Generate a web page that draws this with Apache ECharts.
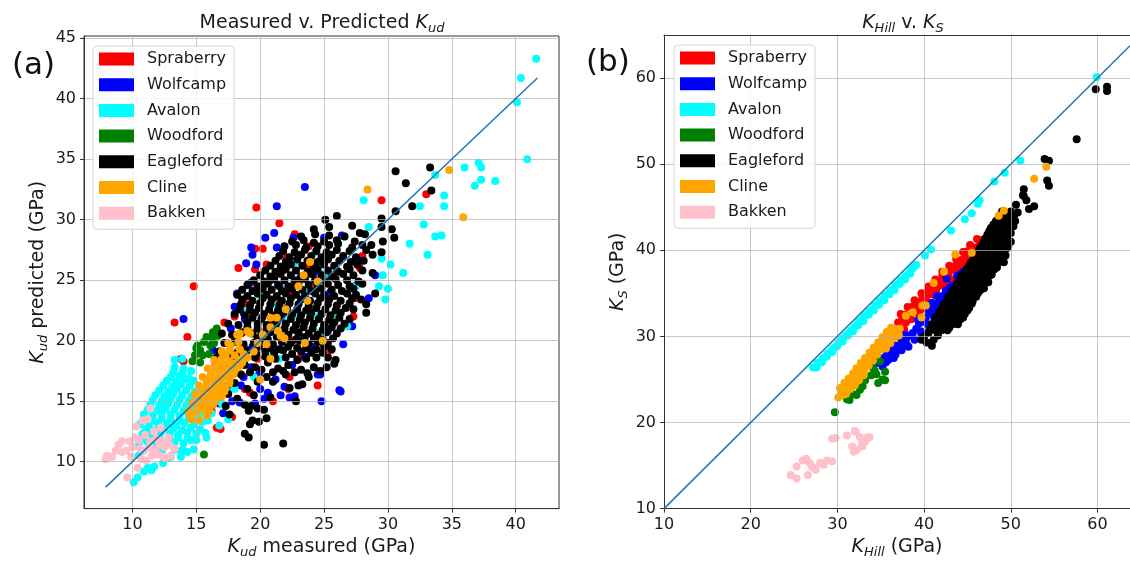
<!DOCTYPE html>
<html>
<head>
<meta charset="utf-8">
<script src="https://cdn.jsdelivr.net/npm/echarts@6/dist/echarts.min.js"></script>
<style>
  html, body { margin: 0; padding: 0; background: #fff; }
  #chart { width: 1130px; height: 564px; }
</style>
</head>
<body>
<div id="chart"></div>
<script>
// formation names (legend order = draw order)
const formations = ['Spraberry', 'Wolfcamp', 'Avalon', 'Woodford', 'Eagleford', 'Cline', 'Bakken']
const formationColors = ['#ff0000', '#0000ff', '#00ffff', '#008000', '#000000', '#ffa500', '#ffc0cb']

// axis ranges and ticks
const xRangeA = [6.21, 43.39]
const yRangeA = [6.125, 45.175]
const xTicksA = [10, 15, 20, 25, 30, 35, 40]
const yTicksA = [10, 15, 20, 25, 30, 35, 40, 45]
const xRangeB = [10, 63.75]   // panel (b) is cut off at the right edge of the figure
const yRangeB = [10, 65]
const ticksB = [10, 20, 30, 40, 50, 60]

// 1:1 reference lines
const lineA = [7.9, 41.7]
const lineB = [10, 65]

// ---------- panel (a): K_ud measured vs predicted ----------
const spraberryA = [[29.5,31.6],[33.0,32.1],[19.7,31.0],[21.5,29.7],[28.0,27.0],[27.8,26.0],[19.6,27.6],[19.6,25.9],[14.8,24.5],[24.5,16.3],[13.3,21.5],[14.3,20.3],[14.0,18.3],[13.8,18.5],[16.6,12.8],[16.9,12.7],[27.3,22.0],[27.4,23.5],[26.8,21.2],[18.0,22.0],[18.5,20.6],[19.3,24.8],[20.5,26.3],[21.8,25.8],[17.0,19.0],[16.5,18.0],[17.5,17.0],[18.8,16.0],[19.2,15.7],[21.0,15.0],[22.2,16.0],[23.0,18.5],[24.0,22.5],[25.2,23.5],[26.0,25.8],[23.8,27.8],[22.3,24.0],[20.8,21.0],[19.8,18.5],[15.5,16.0],[16.2,14.2],[17.8,13.7],[18.3,26.0],[18.9,23.0],[22.7,28.8],[20.2,27.6],[22.1,26.9],[23.7,26.1],[22.5,20.0],[22.3,17.0],[25.5,19.2],[24.4,24.6],[17.2,21.5],[21.2,23.3]]
const wolfcampA = [[23.5,32.7],[21.3,31.1],[20.4,28.5],[21.1,28.9],[18.9,26.4],[19.7,26.3],[22.6,28.5],[25.0,28.5],[26.4,28.7],[14.0,21.8],[26.2,15.9],[24.8,15.0],[24.7,17.2],[21.6,15.5],[22.3,15.3],[22.7,15.4],[23.5,18.7],[19.3,27.7],[19.4,27.1],[21.3,27.7],[19.1,24.7],[18.2,23.9],[18.0,22.8],[18.7,22.3],[17.7,21.0],[29.0,25.4],[27.8,26.6],[24.5,17.2],[26.3,15.8],[17.9,20.5],[16.3,19.2],[20.2,22.0],[21.5,24.5],[22.8,25.0],[24.2,25.6],[25.5,24.0],[27.2,21.2],[23.0,20.5],[21.0,19.5],[19.3,17.8],[20.0,16.0],[20.6,15.7],[21.2,16.8],[18.5,16.3],[17.8,15.0],[16.8,14.8],[17.1,14.0],[18.4,14.9],[19.9,17.2],[22.5,18.0],[24.0,19.5],[25.3,20.8],[26.5,19.7],[27.4,24.5],[28.5,23.5],[22.5,26.5],[20.8,25.0],[18.8,21.8],[19.4,19.5],[18.7,17.0],[20.3,15.2],[19.6,14.8],[21.9,16.2],[17.4,16.2]]
const avalonA = [[10.1,8.3],[10.4,8.7],[10.9,9.2],[11.5,9.3],[11.7,9.6],[11.2,9.5],[12.4,9.9],
  [10.5,10.5],[12.8,10.3],[13.0,10.4],[13.8,10.4],[14.3,10.8],[14.8,11.0],[11.6,10.8],[12.3,10.9],[13.3,11.0],[14.0,10.9],
  [10.5,11.4],[11.2,11.6],[11.9,11.5],[12.6,11.4],[13.3,11.6],[14.0,11.5],[14.6,11.8],
  [10.8,11.9],[11.5,12.0],[12.2,11.8],[12.9,11.9],[13.6,12.0],[14.3,11.9],[15.0,11.8],
  [10.8,12.3],[11.5,12.2],[12.2,12.4],[12.9,12.3],[13.6,12.2],[14.3,12.4],[15.0,12.3],[15.7,12.4],
  [11.1,12.7],[11.8,12.6],[12.5,12.8],[13.2,12.7],[13.9,12.6],[14.6,12.8],[15.3,12.7],
  [10.6,13.1],[11.3,13.0],[12.0,13.2],[12.7,13.1],[13.4,13.0],[14.1,13.2],[14.8,13.1],[15.5,13.3],
  [10.9,13.5],[11.6,13.4],[12.3,13.6],[13.0,13.5],[13.7,13.4],[14.4,13.6],[15.1,13.5],
  [10.9,13.9],[11.6,13.8],[12.3,14.0],[13.0,13.9],[13.7,13.8],[14.4,14.0],[15.2,13.9],
  [11.2,14.3],[11.9,14.2],[12.6,14.4],[13.3,14.3],[14.0,14.2],[14.7,14.4],
  [11.4,14.7],[12.1,14.6],[12.8,14.8],[13.5,14.7],[14.2,14.6],[14.9,14.8],
  [11.6,15.1],[12.3,15.0],[13.0,15.2],[13.7,15.1],[14.4,15.0],[15.0,15.2],
  [11.8,15.5],[12.5,15.4],[13.2,15.6],[13.9,15.5],[14.6,15.4],
  [12.1,15.9],[12.8,15.8],[13.5,16.0],[14.2,15.9],[14.9,15.8],
  [12.4,16.3],[13.1,16.2],[13.8,16.4],[14.5,16.3],
  [12.7,16.7],[13.4,16.6],[14.1,16.8],[14.8,16.7],
  [13.0,17.0],[13.7,17.1],[14.4,16.9],[13.2,17.4],[13.9,17.3],[14.6,17.5],[13.3,17.8],[14.0,17.7],[13.3,18.4],[13.9,18.5],
  [16.2,14.0],[17.0,14.8],[17.5,13.5],[18.0,16.0],[19.5,17.0],[20.5,19.0],[22.0,21.5],[21.0,23.0],[23.5,24.0],[24.5,22.0],[26.8,21.2],[27.5,24.5],[29.3,24.5],[30.0,24.3],[29.8,23.4],[25.9,21.8],[24.3,27.3],[22.8,26.5],[19.0,22.5],[18.3,19.2],[16.8,13.0],[15.9,13.4],[17.3,17.8],[20.0,20.5],[21.5,18.5],[23.0,22.0],[25.0,25.5],[16.5,15.5],[15.8,12.0],[15.6,14.5],[13.8,10.9],[18.8,18.8],[19.9,23.8],[24.7,20.7],
  [41.6,43.3],[40.4,41.7],[40.1,39.7],[40.9,35.0],[36.0,34.3],[37.1,34.7],[37.3,34.3],[37.3,33.3],[38.4,33.2],[36.8,32.8],[33.7,33.7],[34.4,32.0],[34.4,31.1],[32.5,31.1],[32.8,29.6],[28.1,31.6],[28.5,29.4],[29.5,26.8],[30.2,26.3],[31.2,25.6],[31.7,28.0],[33.7,28.6],[34.2,28.7],[33.1,27.1],[29.6,25.4],[26.6,28.6]]
const woodfordA = [[15.6,10.6],[15.1,19.6],[16.3,20.7],[16.6,21.0],[16.1,19.6],[15.5,18.8],[15.3,18.2],[15.0,19.4],[16.6,20.8],[16.2,20.2],[15.3,19.2],[14.9,18.8],[16.4,19.8],[16.7,20.4],[15.8,20.3],[15.6,19.9],[16.0,18.9],[14.7,18.3]]
const eaglefordA = [[20.3,11.4],[21.8,11.5],[19.1,12.0],[18.8,12.3],[19.2,13.1],[19.4,13.4],[19.9,13.3],[20.5,13.6],[20.3,14.3],[19.8,14.4],[19.1,14.2],[18.8,14.7],[19.3,14.6],[17.6,13.9],[17.3,14.6],
  [22.8,15.0],[18.2,15.2],[19.5,15.5],[20.8,15.3],[17.5,15.6],[17.2,16.2],[18.0,16.5],[19.0,16.0],[19.8,16.6],[21.0,16.6],[22.3,16.1],[23.0,16.3],[23.3,16.4],
  [20.5,17.0],[18.5,17.2],[22.0,17.2],[23.8,17.0],[17.0,17.8],[17.8,18.3],[18.8,18.0],[19.6,17.8],[20.6,18.2],[21.4,17.7],[22.2,18.0],[23.2,17.6],[24.2,17.8],[25.2,17.8],[25.8,18.1],[25.9,18.4],[24.9,19.0],[16.6,18.6],
  [19.2,17.4],[20.1,17.6],[21.0,17.4],[21.8,17.5],[22.7,17.4],[23.7,17.3],[24.7,17.5],
  [19.6,18.6],[20.4,18.7],[21.2,18.5],[22.0,18.6],[22.9,18.4],[23.6,18.5],[24.4,18.6],[25.3,18.6],
  [16.8,19.1],[17.5,18.9],[18.2,19.0],[19.0,19.2],[19.7,18.9],[20.4,19.1],[21.1,19.0],[21.8,19.2],[22.5,18.9],[23.2,19.1],[24.0,19.0],[25.6,19.3],
  [19.9,19.5],[20.7,19.4],[21.5,19.3],[22.2,19.5],[22.9,19.4],[23.6,19.4],[24.4,19.3],[25.0,19.5],
  [17.2,19.8],[18.0,19.9],[18.7,19.7],[19.5,19.8],[20.2,20.0],[21.0,19.7],[21.7,19.9],[22.4,19.8],[23.1,20.0],[23.8,19.7],[24.5,19.9],[25.3,19.8],
  [19.8,20.2],[20.6,20.1],[21.3,20.3],[22.0,20.2],[22.8,20.1],[23.5,20.3],[24.2,20.2],[24.9,20.1],[25.7,20.2],
  [17.0,20.6],[17.8,20.5],[18.6,20.7],[19.4,20.6],[20.1,20.5],[20.8,20.7],[21.5,20.6],[22.2,20.5],[23.0,20.7],[23.8,20.6],[24.5,20.5],[25.2,20.7],[26.0,20.6],
  [19.0,21.1],[19.8,21.0],[20.5,20.9],[21.2,21.1],[21.9,21.0],[22.6,20.9],[23.4,21.1],[24.1,21.0],[24.9,20.9],[25.6,21.1],[26.3,21.0],
  [17.5,21.4],[18.3,21.3],[19.0,21.5],[19.8,21.4],[20.5,21.3],[21.3,21.5],[22.0,21.4],[22.8,21.3],[23.5,21.5],[24.2,21.4],[25.0,21.3],[25.8,21.5],[26.6,21.4],
  [19.4,21.9],[20.1,21.8],[20.9,21.7],[21.6,21.9],[22.4,21.8],[23.1,21.7],[23.9,21.9],[24.6,21.8],[25.4,21.7],[26.2,21.9],[27.0,21.8],
  [18.0,22.2],[18.8,22.1],[19.6,22.3],[20.3,22.2],[21.0,22.1],[21.8,22.3],[22.5,22.2],[23.2,22.1],[24.0,22.3],[24.8,22.2],[25.5,22.1],[26.3,22.3],[27.3,22.6],[28.3,22.3],
  [18.4,22.6],[19.2,22.5],[19.9,22.7],[20.7,22.6],[21.4,22.5],[22.1,22.7],[22.9,22.6],[23.6,22.5],[24.4,22.7],[25.1,22.6],[25.9,22.5],[26.7,22.7],
  [18.5,23.0],[19.2,22.9],[20.0,23.1],[20.8,23.0],[21.5,22.9],[22.3,23.1],[23.0,23.0],[23.8,22.9],[24.5,23.1],[25.3,23.0],[26.0,22.9],[27.0,23.1],[28.3,23.0],
  [18.6,23.4],[19.4,23.3],[20.2,23.5],[20.9,23.4],[21.7,23.3],[22.4,23.5],[23.2,23.4],[23.9,23.3],[24.7,23.5],[25.4,23.4],[26.3,23.3],[27.2,23.5],[27.9,23.4],
  [18.2,23.8],[19.0,23.7],[19.8,23.9],[20.5,23.8],[21.3,23.7],[22.0,23.9],[22.8,23.8],[23.5,23.7],[24.3,23.9],[25.0,23.8],[25.8,23.7],[26.8,23.9],[27.5,23.8],[29.0,23.9],
  [18.6,24.2],[19.4,24.1],[20.2,24.3],[20.9,24.2],[21.7,24.1],[22.5,24.3],[23.3,24.2],[24.0,24.1],[24.8,24.3],[25.6,24.2],[26.4,24.1],[27.3,24.3],
  [19.0,24.6],[19.8,24.5],[20.6,24.7],[21.4,24.6],[22.2,24.5],[23.0,24.7],[23.8,24.6],[24.5,24.5],[25.3,24.7],[26.1,24.6],[27.0,24.5],[28.0,24.7],
  [19.5,25.0],[20.3,24.9],[21.1,25.1],[21.9,25.0],[22.7,24.9],[23.5,25.1],[24.3,25.0],[25.1,24.9],[25.9,25.1],[26.8,25.0],[27.7,24.9],
  [20.0,25.4],[20.8,25.3],[21.6,25.5],[22.4,25.4],[23.2,25.3],[24.0,25.5],[24.8,25.4],[25.6,25.3],[26.5,25.5],[27.3,25.4],[28.8,25.6],
  [20.4,25.8],[21.2,25.7],[22.0,25.9],[22.8,25.8],[23.7,25.7],[24.5,25.9],[25.3,25.8],[26.1,25.7],[27.0,25.9],[28.0,25.8],
  [20.8,26.2],[21.6,26.1],[22.4,26.3],[23.3,26.2],[24.2,26.1],[25.0,26.3],[25.8,26.2],[26.8,26.1],[27.6,26.3],
  [21.2,26.6],[22.0,26.5],[22.9,26.7],[23.7,26.6],[24.5,26.5],[25.3,26.7],[26.2,26.6],[27.1,26.5],[28.1,26.6],
  [21.5,27.0],[22.3,26.9],[23.2,27.1],[24.0,27.0],[24.8,26.9],[25.6,27.1],[26.5,27.0],[27.5,26.9],[28.8,27.1],[29.5,27.3],
  [21.8,27.4],[22.7,27.3],[23.5,27.5],[24.4,27.4],[25.2,27.3],[26.0,27.5],[27.0,27.4],[28.3,27.5],
  [21.9,27.8],[22.8,27.9],[23.6,27.7],[24.5,27.8],[25.4,27.9],[26.1,28.0],[27.2,27.7],[28.0,27.9],[28.7,27.9],[29.6,28.2],
  [22.5,28.2],[23.4,28.3],[24.2,28.1],[25.0,28.2],[26.0,28.3],[27.4,28.2],
  [23.2,28.6],[24.3,28.8],[25.4,28.7],[26.6,28.6],[28.2,28.8],[30.5,28.5],
  [24.2,29.2],[25.4,29.4],[27.2,29.5],[29.5,29.4],[30.3,29.2],
  [33.3,34.3],[30.6,34.0],[31.4,33.0],[31.9,31.1],[33.4,32.4],[26.0,30.3],[30.6,30.7],[29.5,30.1],[27.8,28.9],[25.1,30.0]]
const clineA = [[14.6,13.5],[15.2,13.4],[14.5,13.9],[15.8,13.8],[14.4,14.2],[15.0,14.1],[15.6,14.3],[16.0,14.2],[15.1,14.6],[15.7,14.6],[16.3,14.7],[14.7,14.9],[15.3,15.0],[15.9,14.8],[16.5,15.0],[15.2,15.3],[15.8,15.2],[16.4,15.3],[17.0,15.4],[14.9,15.6],[15.5,15.7],[16.1,15.5],[16.7,15.6],[17.2,15.8],[15.5,16.0],[16.1,15.9],[16.7,16.0],[17.3,16.1],[15.2,16.3],[15.8,16.4],[16.4,16.2],[17.0,16.3],[17.6,16.5],[15.8,16.7],[16.4,16.6],[17.0,16.7],[17.6,16.8],[15.5,17.0],[16.1,17.1],[16.7,16.9],[17.3,17.0],[17.9,17.2],[16.2,17.4],[16.8,17.3],[17.4,17.4],[18.0,17.5],[15.9,17.7],[16.5,17.8],[17.1,17.6],[17.8,17.7],[18.4,17.9],[16.7,18.1],[17.3,18.0],[17.9,18.1],[18.6,18.2],[16.4,18.4],[17.0,18.5],[17.6,18.3],[18.3,18.4],[19.0,18.6],[17.3,18.8],[18.0,18.8],[18.7,18.9],[17.0,19.1],[17.6,19.2],[18.4,19.3],[19.5,19.1],[17.5,19.8],[18.3,19.9],[19.8,19.8],[20.5,19.7],[18.2,20.5],[19.2,20.6],[20.2,20.5],[21.6,20.4],
  [20.8,21.9],[21.3,21.9],[20.8,21.1],[21.9,20.2],[23.5,19.8],[24.9,20.0],[23.9,26.5],[23.4,25.4],[24.5,24.9],[23.0,24.5],[23.7,23.3],[19.0,20.8],[20.8,18.5],[21.4,20.8],[18.4,20.6],[17.7,19.6],[22.0,22.6],[20.0,16.8],
  [34.8,34.1],[28.4,32.5],[35.9,30.2]]
const bakkenA = [[7.9,10.2],[8.4,10.4],[8.9,11.4],[9.5,10.9],[9.8,11.7],[10.4,9.5],[9.6,8.7],[10.3,12.9],[10.9,10.9],[11.4,11.7],[11.7,12.5],[11.4,14.4],[12.0,10.6],[12.5,11.2],[13.0,10.5],[11.1,10.1],[12.3,11.7],[10.7,10.2],[8.0,10.5],[9.2,10.8],[10.0,11.2],[10.5,11.8],[11.0,12.2],[11.8,11.0],[12.2,12.8],[12.8,12.0],[11.5,10.5],[10.8,13.4],[9.2,11.7],[12.6,10.3],[10.2,12.0],[11.2,13.5],[11.6,10.9],[12.4,10.4],[11.9,11.9],[12.9,11.4],[10.6,11.1],[11.3,11.2],[12.1,11.4],[13.3,11.1],[9.9,10.4],[8.7,10.9]]

// ---------- panel (b): K_Hill vs K_S ----------
const spraberryB = [[36.4,30.0],[36.8,30.4],[37.2,31.0],[37.0,31.6],[37.5,32.1],[37.9,31.6],[37.7,30.8],[38.3,32.4],[38.5,32.0],[37.8,32.5],[38.7,33.0],[38.6,33.4],[39.0,32.8],[39.1,33.6],[39.4,32.8],[39.5,33.9],[39.9,33.2],[39.8,34.5],[40.0,33.8],[40.2,34.3],[40.4,35.2],[40.6,34.9],[41.0,35.5],[41.2,34.8],[41.2,35.9],[41.4,35.4],[41.6,36.4],[41.8,35.9],[42.0,36.0],[42.1,37.0],[42.4,36.5],[42.6,36.0],[42.8,37.3],[42.9,36.8],[43.2,37.7],[43.3,36.4],[43.6,38.2],[43.9,38.0],[44.0,38.5],[44.0,37.6],[44.4,38.9],[44.6,38.4],[44.8,39.2],[45.0,39.9],[45.2,39.8],[45.5,40.4],[45.9,39.7],[46.0,40.3],[46.4,40.8],[46.6,41.2],[46.8,40.6],[47.2,41.0],
  [37.3,32.6],[38.1,33.4],[38.9,34.2],[39.7,35.0],[40.5,35.8],[41.3,36.6],[42.1,37.5],[42.9,38.2],[43.7,39.0],[44.5,39.8],[45.3,40.6],[46.1,41.3]]
const wolfcampB = [[34.5,26.9],[34.9,27.4],[35.2,26.5],[35.3,27.5],[35.6,27.0],[35.7,28.1],[35.9,27.3],[36.0,27.8],[36.1,28.6],[36.4,28.2],[36.5,27.5],[36.7,27.9],[36.8,28.9],[37.1,28.7],[37.2,29.8],[37.4,28.4],[37.5,29.3],[37.8,30.2],[37.9,29.6],[38.0,29.0],[38.2,28.8],[38.3,30.1],[38.7,30.4],[38.9,29.6],[39.1,30.9],[39.3,31.9],[39.4,31.5],[39.6,30.6],[39.7,30.2],[39.8,31.7],[40.2,32.2],[40.4,31.4],[40.6,32.8],[40.6,33.6],[40.9,33.9],[41.0,33.1],[41.1,32.4],[41.2,32.0],[41.4,33.8],[41.5,34.7],[41.8,34.2],[41.9,33.0],[42.1,34.7],[42.5,35.3],[42.6,36.7],[42.7,33.6],[42.9,35.6],[43.3,35.9],[43.5,34.6],[43.8,37.0],[44.1,36.0],[44.2,37.2],[44.5,37.5],[44.6,36.5],[44.9,37.8],[45.2,36.9]]
const avalonB = [[27.2,26.4],[27.5,26.5],[27.7,26.9],[28.0,27.0],[28.3,27.4],[28.6,27.6],[28.9,28.0],[29.2,28.2],[29.5,28.6],[29.8,28.8],[30.1,29.2],[30.4,29.5],[30.7,29.8],[31.0,30.1],[31.3,30.4],[31.6,30.7],[31.9,31.0],[32.2,31.3],[32.5,31.7],[32.8,31.9],[33.1,32.3],[33.4,32.5],[33.7,32.9],[34.0,33.1],[34.3,33.5],[34.6,33.7],[34.9,34.1],[35.2,34.3],[35.5,34.7],[35.8,34.9],[36.1,35.3],[36.4,35.5],[36.7,35.9],[37.0,36.1],[37.3,36.5],[37.6,36.7],[37.9,37.0],[38.2,37.3],[38.5,37.7],[38.8,38.0],[39.1,38.3],
  [27.6,26.4],[28.2,27.0],[28.8,27.7],[29.4,28.2],[30.0,28.9],[30.6,29.4],[31.2,30.1],[31.8,30.6],[32.4,31.3],[33.0,31.8],[33.6,32.5],[34.2,33.0],[34.8,33.7],[35.4,34.2],[36.0,34.9],[36.6,35.4],[37.2,36.1],[37.8,36.6],[38.4,37.3],
  [40.1,39.4],[40.8,40.1],[43.1,42.3],[44.7,43.6],[45.5,44.3],[46.2,45.4],[46.4,45.8],[48.1,48.0],[49.3,49.0],[51.1,50.4],[59.9,60.1]]
const woodfordB = [[29.7,21.2],[31.1,22.7],[31.4,22.6],[31.8,23.3],[32.2,23.2],[32.6,23.8],[32.9,24.2],[34.5,25.6],[34.7,24.6],[35.2,25.0],[34.1,26.4],[34.9,27.1],[35.5,25.9],[33.9,25.5],[34.3,26.0],[35.5,24.9],[31.3,22.9],[33.2,24.9]]
const eaglefordB = [[39.7,29.6],[40.3,29.3],[40.9,28.9],[41.1,29.6],[41.6,30.1],[40.0,30.0],[40.5,30.4],[40.6,30.7],[41.3,30.7],[42.0,30.7],[42.7,30.7],[41.0,31.0],[41.7,30.8],[42.4,31.2],[42.9,31.0],
  [40.9,31.4],[41.7,31.4],[42.5,31.4],[43.3,31.4],[43.9,31.4],[41.3,31.8],[42.0,31.9],[42.7,32.0],[43.4,31.9],[44.2,32.0],
  [41.3,32.2],[42.1,32.2],[42.9,32.2],[43.7,32.2],[44.5,32.2],[41.7,32.6],[42.4,32.7],[43.1,32.5],[43.9,32.7],[44.7,32.6],
  [41.8,33.0],[42.6,33.0],[43.4,33.0],[44.2,33.0],[45.0,33.0],[42.2,33.4],[42.9,33.5],[43.6,33.3],[44.4,33.5],[45.2,33.3],
  [42.3,33.8],[43.1,33.8],[43.9,33.8],[44.7,33.8],[45.5,33.8],[42.7,34.2],[43.4,34.3],[44.1,34.1],[44.9,34.3],[45.6,34.1],
  [42.8,34.6],[43.6,34.6],[44.4,34.6],[45.2,34.6],[46.0,34.6],[43.2,35.0],[43.9,35.1],[44.6,34.9],[45.4,35.1],[46.2,35.0],
  [43.3,35.4],[44.1,35.4],[44.9,35.4],[45.7,35.4],[46.5,35.4],[46.9,35.6],[43.7,35.8],[44.4,35.9],[45.1,35.7],[45.9,35.9],[46.6,36.0],
  [43.8,36.2],[44.6,36.2],[45.4,36.2],[46.2,36.2],[47.0,36.2],[47.4,36.3],[44.1,36.6],[44.8,36.7],[45.6,36.5],[46.4,36.7],[47.2,36.6],
  [44.3,37.0],[45.1,37.0],[45.9,37.0],[46.7,37.0],[47.5,37.0],[47.8,37.2],[44.7,37.4],[45.4,37.5],[46.2,37.3],[47.0,37.5],[47.7,37.4],
  [44.9,37.8],[45.7,37.8],[46.5,37.8],[47.3,37.8],[48.1,37.8],[48.4,38.0],[45.2,38.2],[46.0,38.3],[46.8,38.1],[47.5,38.3],[48.2,38.2],
  [45.4,38.6],[46.2,38.6],[47.0,38.6],[47.8,38.6],[48.6,38.6],[49.2,38.6],[48.9,38.9],[45.7,39.0],[46.4,39.1],[47.2,38.9],[48.0,39.1],[48.7,39.0],
  [45.9,39.4],[46.7,39.4],[47.5,39.4],[48.3,39.4],[49.0,39.4],[49.4,39.4],[46.2,39.8],[47.0,39.9],[47.8,39.7],[48.5,39.9],[49.2,39.8],
  [46.4,40.2],[47.2,40.2],[48.0,40.2],[48.8,40.2],[49.5,40.2],[49.7,40.4],[46.7,40.6],[47.4,40.7],[48.2,40.5],[49.0,40.7],
  [46.9,41.0],[47.7,41.0],[48.5,41.0],[49.3,41.0],[50.0,41.0],[49.7,41.2],[47.1,41.4],[47.8,41.5],[48.6,41.3],[49.4,41.5],
  [47.3,41.8],[48.1,41.8],[48.9,41.8],[49.7,41.8],[50.0,42.0],[47.5,42.2],[48.2,42.3],[49.0,42.1],[49.8,42.3],
  [47.7,42.6],[48.5,42.6],[49.3,42.6],[50.0,42.6],[50.3,42.8],[48.0,43.0],[48.8,43.1],[49.6,42.9],
  [48.3,43.4],[49.1,43.4],[49.9,43.4],[50.5,43.4],[48.6,43.8],[49.4,43.9],[50.2,43.7],[48.8,44.1],[49.6,44.1],[50.4,44.1],[49.0,44.5],[50.0,44.5],[50.8,44.4],
  [51.5,47.1],[51.4,46.4],[51.5,46.3],[52.1,44.8],[52.7,45.1],[53.9,50.6],[54.4,50.4],[54.2,48.1],[54.4,47.5],[57.6,52.9],[59.8,58.7],[61.1,59.0],[61.1,58.5],[51.8,45.8],[50.6,45.3]]
const clineB = [[30.1,22.9],[30.4,23.6],[30.6,23.2],[30.9,24.1],[31.1,23.7],[31.3,24.6],[31.6,24.3],[31.8,25.2],[32.1,24.8],[32.3,25.8],[32.6,25.4],[32.8,26.4],[33.1,26.0],[33.3,27.0],[33.6,26.6],[33.8,27.6],[34.1,27.2],[34.3,28.2],[34.6,27.9],[34.8,28.8],[35.1,28.5],[35.3,29.4],[35.7,29.2],[35.9,30.0],[36.3,29.9],[36.6,30.6],[37.0,30.4],[37.2,30.9],
  [31.0,23.3],[31.5,23.9],[32.0,24.3],[32.5,24.9],[33.0,25.5],[35.6,28.6],[36.1,29.2],[36.6,29.8],[37.1,30.1],
  [30.3,24.0],[30.8,24.6],[31.3,25.1],[31.8,25.7],[32.2,26.3],[32.7,26.9],[33.2,27.5],[33.7,28.1],[34.2,28.7],[34.7,29.3],[35.2,29.9],[35.7,30.5],[36.2,31.0],
  [37.9,32.4],[39.7,32.2],[40.2,33.6],[41.1,36.2],[42.3,37.5],[45.5,39.7],[43.6,39.5],[48.6,44.0],[49.2,44.6],[52.7,48.3],[54.1,49.7],[38.7,32.8],[39.8,33.6],[36.6,30.9]]
const bakkenB = [[29.4,18.1],[31.1,18.5],[32.0,19.0],[32.6,18.3],[33.5,18.3],[31.7,17.2],[32.2,16.8],[32.8,17.5],[26.0,15.6],[26.8,15.3],[28.8,15.6],[25.3,14.9],[24.6,13.9],[25.3,13.5],[26.6,13.9],[27.5,14.5],[26.4,15.8],[28.0,15.3],[29.4,15.5],[32.1,18.9],[32.9,17.2],[33.7,18.3],[31.9,16.6],[33.2,17.8],[27.1,14.8],[28.4,15.1],[29.8,18.2]]

const panelA = [spraberryA, wolfcampA, avalonA, woodfordA, eaglefordA, clineA, bakkenA]
const panelB = [spraberryB, wolfcampB, avalonB, woodfordB, eaglefordB, clineB, bakkenB]

const font = 'DejaVu Sans'
const ink = '#1a1a1a'

// 数学风格的富文本：K 斜体，下标更小并下移
const rich = {
  n: { fontSize: 19, fontFamily: font, fontWeight: 'normal', color: ink, lineHeight: 24 },
  k: { fontSize: 19, fontFamily: font, fontWeight: 'normal', fontStyle: 'italic', color: ink, lineHeight: 24 },
  s: { fontSize: 13, fontFamily: font, fontWeight: 'normal', fontStyle: 'italic', color: ink, lineHeight: 12, verticalAlign: 'bottom' }
}

const chart = echarts.init(document.getElementById('chart'), null, { renderer: 'canvas' })

const scatter = (name, data, color, idx) => ({
  name: name,
  type: 'scatter',
  xAxisIndex: idx,
  yAxisIndex: idx,
  data: data,
  symbolSize: 8,
  itemStyle: { color: color, opacity: 1 },
  silent: true,
  z: 2
})

const oneToOne = (ends, idx) => ({
  type: 'line',
  xAxisIndex: idx,
  yAxisIndex: idx,
  data: ends.map(v => [v, v]),
  showSymbol: false,
  silent: true,
  lineStyle: { color: '#1f77b4', width: 1.5 },
  z: 4
})

const series = []
formations.forEach((f, i) => series.push(scatter(f, panelA[i], formationColors[i], 0)))
series.push(oneToOne(lineA, 0))
formations.forEach((f, i) => series.push(scatter(f, panelB[i], formationColors[i], 1)))
series.push(oneToOne(lineB, 1))

const valueAxis = (idx, range, ticks, step, extra) => Object.assign({
  type: 'value',
  gridIndex: idx,
  min: range[0],
  max: range[1],
  minInterval: step,
  maxInterval: step,
  splitNumber: 8,
  z: 3,
  axisLine: { show: true, lineStyle: { color: '#333', width: 1 } },
  axisTick: { show: true, length: 4, customValues: ticks, lineStyle: { color: '#333' } },
  axisLabel: { fontSize: 16, fontFamily: font, color: ink, customValues: ticks },
  splitLine: { show: true, lineStyle: { color: '#b0b0b0', opacity: 0.7, width: 1 } },
  nameLocation: 'middle',
  nameTextStyle: { rich: rich }
}, extra)

const legendBox = (left, top) => ({
  data: formations,
  orient: 'vertical',
  left: left,
  top: top,
  icon: 'rect',
  itemWidth: 35,
  itemHeight: 13,
  itemGap: 9.7,
  padding: [5, 8, 8, 6],
  backgroundColor: 'rgba(255,255,255,0.85)',
  borderColor: '#d5d5d5',
  borderWidth: 1,
  borderRadius: 4,
  selectedMode: false,
  z: 6,
  textStyle: { fontSize: 16, fontFamily: font, color: ink, padding: [0, 0, 0, 8] }
})

const option = {
  animation: false,
  textStyle: { fontFamily: font },
  title: [
    { text: '{n|Measured v. Predicted }{k|K}{s|ud}', left: 322, top: 11, textAlign: 'center', padding: 0, textStyle: { fontWeight: 'normal', rich: rich } },
    { text: '{k|K}{s|Hill}{n| v. }{k|K}{s|S}', left: 903, top: 11, textAlign: 'center', padding: 0, textStyle: { fontWeight: 'normal', rich: rich } }
  ],
  graphic: [
    { type: 'text', left: 12, top: 50, style: { text: '(a)', fontSize: 31, fontFamily: font, fill: '#111' } },
    { type: 'text', left: 586, top: 47, style: { text: '(b)', fontSize: 31, fontFamily: font, fill: '#111' } }
  ],
  legend: [legendBox(93, 46), legendBox(674, 45)],
  grid: [
    { left: 84, top: 36, width: 475, height: 480, show: true, borderColor: '#333', borderWidth: 1, backgroundColor: 'transparent' },
    // panel (b) runs off the right edge, so no box: left/bottom axis lines plus a top line
    { left: 664, top: 35, width: 466, height: 481, show: false }
  ],
  xAxis: [
    valueAxis(0, xRangeA, xTicksA, 5, { name: '{k|K}{s|ud}{n| measured (GPa)}', nameGap: 24 }),
    valueAxis(1, xRangeB, ticksB, 10, { name: '{k|K}{s|Hill}{n| (GPa)}', nameGap: 24 }),
    {
      type: 'value', gridIndex: 1, position: 'top', min: xRangeB[0], max: xRangeB[1], z: 3,
      axisLine: { show: true, lineStyle: { color: '#333', width: 1 } },
      axisTick: { show: false }, axisLabel: { show: false }, splitLine: { show: false }
    }
  ],
  yAxis: [
    valueAxis(0, yRangeA, yTicksA, 5, { name: '{k|K}{s|ud}{n| predicted (GPa)}', nameGap: 34 }),
    valueAxis(1, yRangeB, ticksB, 10, { name: '{k|K}{s|S}{n| (GPa)}', nameGap: 34 })
  ],
  series: series
}

chart.setOption(option)
</script>
</body>
</html>
